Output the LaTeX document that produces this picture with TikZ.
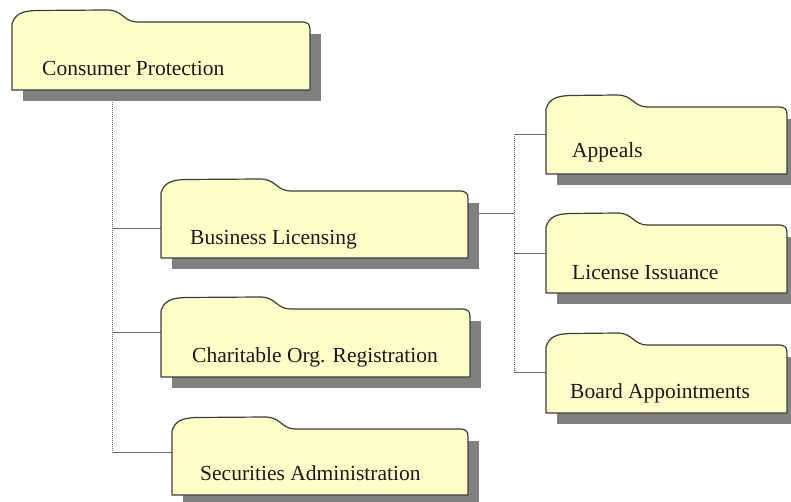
\documentclass[tikz,border=0pt]{standalone}
\usepackage{fontspec}
\setmainfont{Liberation Serif}
\newfontfamily\fldfont{Liberation Serif}
\pgfdeclarelayer{bg}
\pgfsetlayers{bg,main}
\definecolor{fldfill}{HTML}{FFFFCA}
\definecolor{fldline}{HTML}{3C3C3C}
\definecolor{fldshadow}{HTML}{808080}
\definecolor{linkcol}{HTML}{6A6A6A}
\tikzset{
  fldshape/.style={fill=fldfill, draw=fldline, line width=1.2pt, line join=round},
  fldshad/.style={fill=fldshadow, draw=none},
  fldtext/.style={anchor=base west, inner sep=0, text=black!90, font=\fldfont\fontsize{21.5}{25}\selectfont},
  solidlink/.style={draw=linkcol, line width=0.9pt},
  dotlink/.style={draw=linkcol, line width=0.9pt, dash pattern=on 1pt off 1pt},
}
% #1 name, #2 x0, #3 tab top, #4 right, #5 bottom, #6 tab width, #7 text x, #8 text y, #9 text
\newcommand\fld[9]{%
  \node[inner sep=0, outer sep=0, minimum width={(#4-#2)*1pt}, minimum height={(#5-#3-12)*1pt}, anchor=north west] (#1) at (#2,{#3+12}) {};
  \fill[fldshad] ({#2+11},{#3+24}) rectangle ({#4+11},{#5+11});
  \path[fldshape] (#2,#5) -- (#2,{#3+14})
    .. controls ({#2+3},{#3+4}) and ({#2+10},{#3+1}) .. ({#2+24},{#3+0.5})
    -- ({#2+#6-30},{#3})
    .. controls ({#2+#6-14},{#3}) and ({#2+#6-14},{#3+11.5}) .. ({#2+#6},{#3+12})
    -- ({#4-9},{#3+12})
    .. controls ({#4-2},{#3+12}) and ({#4},{#3+14}) .. ({#4},{#3+20})
    -- (#4,#5) -- cycle;
  \node[fldtext] (#1-t) at (#7,#8) {#9};
}
\begin{document}
\begin{tikzpicture}[x=1pt,y=-1pt]
\useasboundingbox (0,0) rectangle (791,502);
\fld{cp}{12}{10}{310}{90}{125}{42}{76}{Consumer Protection}
\fld{bl}{161}{179}{468}{258}{129}{190}{244}{Business Licensing}
\fld{co}{161}{297}{470}{377}{129}{192}{362}{Charitable Org. Registration}
\fld{sa}{172}{417}{468}{495}{123}{200}{480}{Securities Administration}
\fld{ap}{546}{95}{787}{174}{101}{572}{158}{Appeals}
\fld{li}{546}{213}{787}{293}{101}{572}{279}{License Issuance}
\fld{ba}{546}{333}{787}{413}{101}{570}{398}{Board Appointments}
\begin{pgfonlayer}{bg}
  \coordinate (t1) at (112,228);
  \coordinate (t2) at (112,332);
  \coordinate (t3) at (112,452);
  \draw[dotlink] (t3 |- cp.south) -- (t3);
  \draw[solidlink] (t1) -- (t1 -| bl.west);
  \draw[solidlink] (t2) -- (t2 -| co.west);
  \draw[solidlink] (t3) -- (t3 -| sa.west);
  \coordinate (r0) at (514,213);
  \coordinate (r1) at (514,134);
  \coordinate (r2) at (514,253);
  \coordinate (r3) at (514,372);
  \draw[solidlink] (r0 -| bl.east) -- (r0);
  \draw[dotlink] (r1) -- (r3);
  \draw[solidlink] (r1) -- (r1 -| ap.west);
  \draw[solidlink] (r2) -- (r2 -| li.west);
  \draw[solidlink] (r3) -- (r3 -| ba.west);
\end{pgfonlayer}
\end{tikzpicture}
\end{document}
